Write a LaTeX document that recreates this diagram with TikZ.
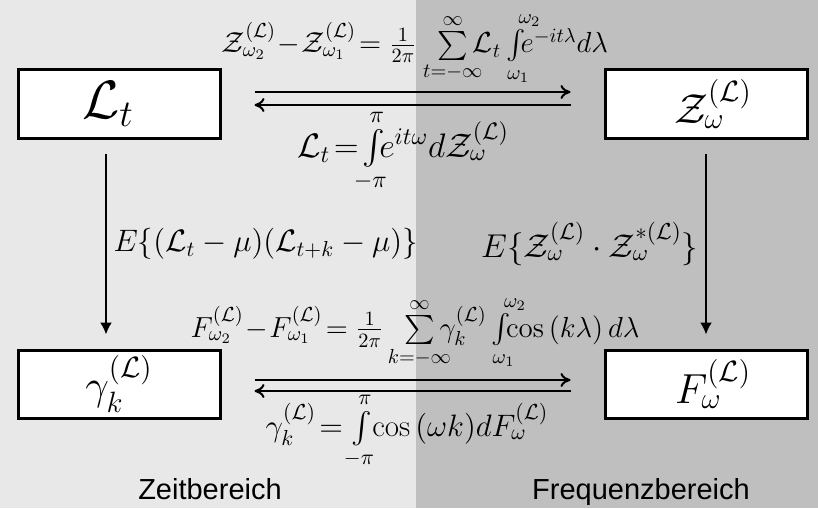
\RequirePackage{fix-cm}
\documentclass[tikz,border=0pt]{standalone}
\usepackage{amsmath,amssymb,mathtools}
\usepackage{fontspec}
\newfontfamily\regionfont{Liberation Sans}
\usepackage{xcolor}
\usepackage{tikz}
\usetikzlibrary{arrows.meta, positioning}
\definecolor{zeitgray}{RGB}{232,232,232}
\definecolor{freqgray}{RGB}{191,191,191}

\begin{document}
\begin{tikzpicture}[
    x=0.5pt, y=-0.5pt,
    box/.style={rectangle, draw=black, fill=white, line width=1.5pt,
                minimum width=101pt, minimum height=34pt, inner sep=0pt,
                font=\fontsize{21}{24}\selectfont},
    formula/.style={font=\fontsize{14.5}{17}\selectfont, inner sep=0pt, anchor=base},
    harrow/.style={-{To[length=5pt,width=7pt]}, line width=1pt,
                   shorten <=16.5pt, shorten >=16.5pt},
    varrow/.style={-{Latex[length=6pt,width=6pt]}, line width=1pt,
                   shorten <=7pt, shorten >=7pt},
    elabel/.style={midway, font=\fontsize{15.5}{18}\selectfont},
    region/.style={font=\regionfont\fontsize{14.5}{17}\selectfont, anchor=base}
]
    % Background
    \useasboundingbox (0,0) rectangle (818,508);
    \fill[zeitgray] (0,0) rectangle (416,508);
    \fill[freqgray] (416,0) rectangle (818,508);

    % Boxes
    \node[box, font=\fontsize{27}{30}\selectfont] (Lt) at (119,104) {$\mathcal{L}_t$\kern11pt};
    \node[box, right=191pt of Lt] (Zw) {\kern7pt$\mathcal{Z}^{(\mathcal{L})}_\omega$};
    \node[box, below=104.5pt of Lt] (gk) {$\gamma^{(\mathcal{L})}_k$};
    \node[box, below=104.5pt of Zw] (Fw) {\kern7pt$F^{(\mathcal{L})}_\omega$};

    % Arrows
    \draw[harrow] ([yshift=6pt]Lt.east) -- ([yshift=6pt]Zw.west);
    \draw[harrow] ([yshift=-0.5pt]Zw.west) -- ([yshift=-0.5pt]Lt.east);
    \draw[harrow] ([yshift=2pt]gk.east) -- ([yshift=2pt]Fw.west);
    \draw[harrow] ([yshift=-3.5pt]Fw.west) -- ([yshift=-3.5pt]gk.east);
    \draw[varrow] ([xshift=-6.5pt]Lt.south) -- ([xshift=-6.5pt]gk.north)
        node[elabel, right] {$E\{(\mathcal{L}_t-\mu)(\mathcal{L}_{t+k}-\mu)\}$};
    \draw[varrow] (Zw.south) -- (Fw.north)
        node[elabel, left, font=\fontsize{16.5}{19}\selectfont]
        {$E\{\mathcal{Z}^{(\mathcal{L})}_\omega\cdot\mathcal{Z}^{*(\mathcal{L})}_\omega\}$};

    % Formulas
    \node[formula] (zfwd) at (415,53)
        {$\mathcal{Z}^{(\mathcal{L})}_{\omega_2}\!-\!\mathcal{Z}^{(\mathcal{L})}_{\omega_1}\!=\tfrac{1}{2\pi}\;\;\sum\limits_{\mathclap{t=-\infty}}^{\infty}\mathcal{L}_t\int\limits_{\mathrlap{\mkern-5mu\omega_1}}^{\mathrlap{\omega_2}}\!\!e^{-it\lambda}d\lambda$};
    \node[formula, font=\fontsize{17}{20}\selectfont] (zinv) at (403,157)
        {$\mathcal{L}_t\!=\!\int\limits_{\mathclap{-\pi}}^{\mathclap{\pi}}\!\!e^{it\omega}d\mathcal{Z}^{(\mathcal{L})}_\omega$};
    \node[formula] (ffwd) at (415,337)
        {$F^{(\mathcal{L})}_{\omega_2}\!-\!F^{(\mathcal{L})}_{\omega_1}\!=\tfrac{1}{2\pi}\;\;\sum\limits_{\mathclap{k=-\infty}}^{\infty}\gamma^{(\mathcal{L})}_k\int\limits_{\mathrlap{\mkern-5mu\omega_1}}^{\mathrlap{\omega_2}}\!\!\cos{(k\lambda)}\,d\lambda$};
    \node[formula, font=\fontsize{15.5}{18}\selectfont] (finv) at (407,436)
        {$\gamma^{(\mathcal{L})}_k\!=\int\limits_{\mathclap{-\pi}}^{\mathclap{\pi}}\!\cos{(\omega k)}dF^{(\mathcal{L})}_\omega$};

    % Labels below
    \node[region] (zeit) at (210,499) {Zeitbereich};
    \node[region] (freq) at (641,499) {Frequenzbereich};
\end{tikzpicture}
\end{document}
